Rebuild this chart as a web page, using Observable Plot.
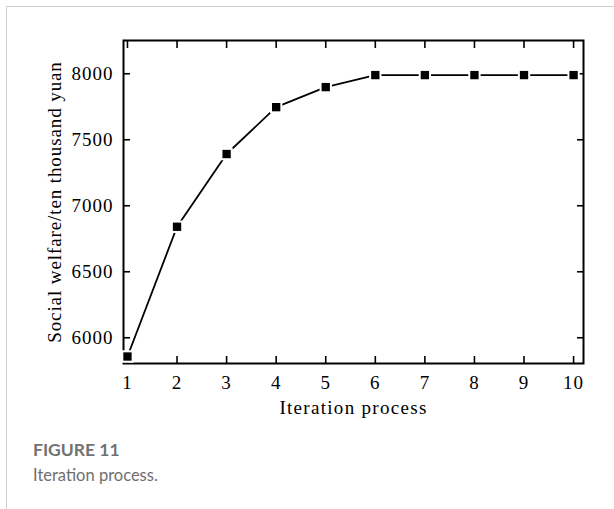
<!DOCTYPE html>
<html>
<head>
<meta charset="utf-8">
<script src="https://cdn.jsdelivr.net/npm/d3@7"></script>
<script src="https://cdn.jsdelivr.net/npm/@observablehq/plot@0.6"></script>
<style>
  html, body { margin: 0; padding: 0; background: #fff; }
  body { width: 614px; height: 509px; position: relative; overflow: hidden; }
  #card { position: absolute; left: 6px; top: 6px; width: 640px; height: 540px;
          border-left: 1px solid #cfcfcf; border-top: 1px solid #cfcfcf; }
  #chart { position: absolute; left: 0; top: 0; }
  #fig { position: absolute; left: 33px; top: 439px; font-family: Lato, "Open Sans", sans-serif;
         font-weight: 700; font-size: 17.5px; color: #727272; }
  #cap { position: absolute; left: 33px; top: 465px; font-family: Lato, "Open Sans", sans-serif;
         font-size: 16.5px; color: #6e6e6e; }
  #chart svg text { letter-spacing: 1px; }
  #chart svg [aria-label="x-axis label"] text { letter-spacing: 1.3px; }
  #chart svg [aria-label="y-axis label"] text { letter-spacing: 0.9px; }
</style>
</head>
<body>
<div id="card"></div>
<div id="chart"></div>
<div id="fig">FIGURE 11</div>
<div id="cap">Iteration process.</div>
<script>
const iterations = [1, 2, 3, 4, 5, 6, 7, 8, 9, 10];
const welfare = [5858, 6841, 7392, 7747, 7899, 7990, 7990, 7990, 7990, 7990];
const yTicks = [6000, 6500, 7000, 7500, 8000];
const xTicks = iterations;

const data = iterations.map((it, i) => ({it, w: welfare[i]}));

const chart = Plot.plot({
  width: 614,
  height: 420,
  marginLeft: 123,
  marginRight: 31,
  marginTop: 40,
  marginBottom: 57,
  style: {fontFamily: "'Liberation Serif', 'Times New Roman', serif", fontSize: "19px", color: "#000", background: "transparent"},
  x: {domain: [0.92, 10.2]},
  y: {domain: [5805, 8252]},
  marks: [
    Plot.frame({stroke: "#000", strokeWidth: 2}),
    Plot.axisX(xTicks, {anchor: "bottom", tickSize: -7, tickPadding: 19, strokeWidth: 1.6, tickFormat: "d",
      label: "Iteration process", labelAnchor: "center", labelOffset: 50, labelArrow: "none"}),
    Plot.axisX(xTicks, {anchor: "top", tickSize: -7, strokeWidth: 1.6, tickFormat: () => "", label: null}),
    Plot.axisY(yTicks, {anchor: "left", tickSize: -7, tickPadding: 17, strokeWidth: 1.6, tickFormat: "d",
      label: "Social welfare/ten thousand yuan", labelAnchor: "center", labelOffset: 76, labelArrow: "none"}),
    Plot.axisY(yTicks, {anchor: "right", tickSize: -7, strokeWidth: 1.6, tickFormat: () => "", label: null}),
    Plot.line(data, {x: "it", y: "w", stroke: "#000", strokeWidth: 1.8}),
    Plot.dot(data, {x: "it", y: "w", symbol: "square", r: 4.7, fill: "#000", stroke: "#fff", strokeWidth: 4, paintOrder: "stroke"})
  ]
});
document.getElementById("chart").appendChild(chart);
</script>
</body>
</html>
